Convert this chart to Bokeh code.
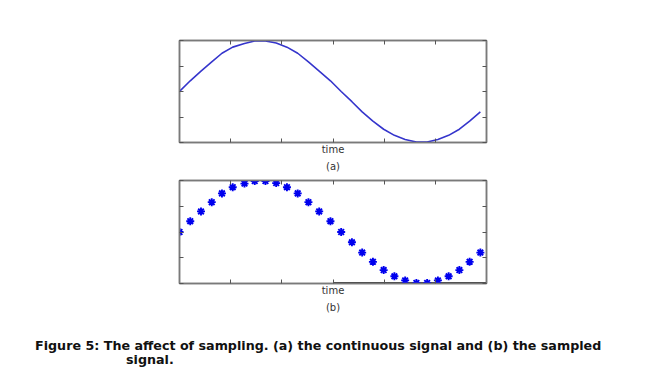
from bokeh.plotting import figure
from bokeh.layouts import column
from bokeh.models import Range1d, FixedTicker, LinearAxis, Title, Div
from bokeh.embed import file_html
from bokeh.resources import INLINE

# sample times and signal values
t = [0.00, 0.21, 0.42, 0.63, 0.83, 1.04, 1.27, 1.47, 1.68, 1.89, 2.10, 2.31,
     2.52, 2.73, 2.95, 3.16, 3.37, 3.57, 3.78, 3.99, 4.20, 4.41, 4.63, 4.84,
     5.05, 5.26, 5.47, 5.67, 5.88]
s = [0.00, 0.21, 0.40, 0.58, 0.75, 0.87, 0.94, 0.99, 0.99, 0.95, 0.87, 0.75,
     0.58, 0.40, 0.21, 0.00, -0.20, -0.40, -0.58, -0.74, -0.86, -0.94, -0.99,
     -0.99, -0.94, -0.86, -0.74, -0.58, -0.40]
x_ticks = [0, 1, 2, 3, 4, 5, 6]
y_ticks = [-1, -0.5, 0, 0.5, 1]
x_lim = [0, 6]
y_lim = [-1, 1]
base_x = [3.0, 6.0]
base_y = [-1.0, -1.0]

caption1 = "Figure 5: The affect of sampling. (a) the continuous signal and (b) the sampled"
caption2 = "signal."

W = 640
AX = "#7a7a7a"
LEFT = 179
FRAME_W = 307


def style_axis(ax, ticks):
    ax.ticker = FixedTicker(ticks=ticks)
    ax.major_tick_in = 4
    ax.major_tick_out = 0
    ax.minor_tick_line_color = None
    ax.major_tick_line_color = "#555555"
    ax.axis_line_color = AX
    ax.axis_line_width = 1.5
    ax.major_label_overrides = {tk: "" for tk in ticks}
    ax.major_label_standoff = 0


def panel(label, height, top, bottom):
    p = figure(width=W, height=height, x_range=Range1d(*x_lim), y_range=Range1d(*y_lim),
               output_backend="svg", toolbar_location=None,
               min_border_left=LEFT, min_border_right=W - LEFT - FRAME_W,
               min_border_top=top, min_border_bottom=bottom)
    p.grid.visible = False
    p.outline_line_color = AX
    p.outline_line_width = 1.5
    p.add_layout(LinearAxis(), "right")
    p.add_layout(LinearAxis(), "above")
    for ax in p.xaxis:
        style_axis(ax, x_ticks)
    for ax in p.yaxis:
        style_axis(ax, y_ticks)
    p.below[0].axis_label = "time"
    p.below[0].axis_label_text_font = "DejaVu Sans"
    p.below[0].axis_label_text_font_style = "normal"
    p.below[0].axis_label_text_font_size = "10px"
    p.below[0].axis_label_text_color = "#333333"
    p.below[0].axis_label_standoff = 1
    p.add_layout(Title(text=label, align="center", text_font="DejaVu Sans",
                       text_font_size="10px", text_font_style="normal",
                       text_color="#333333", standoff=2), "below")
    return p


pa = panel("(a)", 172, 40, 30)
pa.line(t, s, line_color="#3535cc", line_width=1.6)

pb = panel("(b)", 143, 8, 32)
pb.line(base_x, base_y, line_color="#111111", line_width=2.5)
pb.scatter(t, s, marker="asterisk", size=8, line_color="#0000ee", line_width=1.9)

cap_style = ("font-family:'DejaVu Sans';font-weight:bold;font-size:12.7px;"
             "line-height:14px;color:#111111;white-space:nowrap;")
pc = Div(text=(f"<div style=\"{cap_style}padding-top:19px;margin-left:30px\">{caption1}</div>"
               f"<div style=\"{cap_style}margin-left:121px\">{caption2}</div>"),
         width=W, height=53)

layout = column(pa, pb, pc, spacing=0)
open("out.html", "w").write(file_html(layout, INLINE))
